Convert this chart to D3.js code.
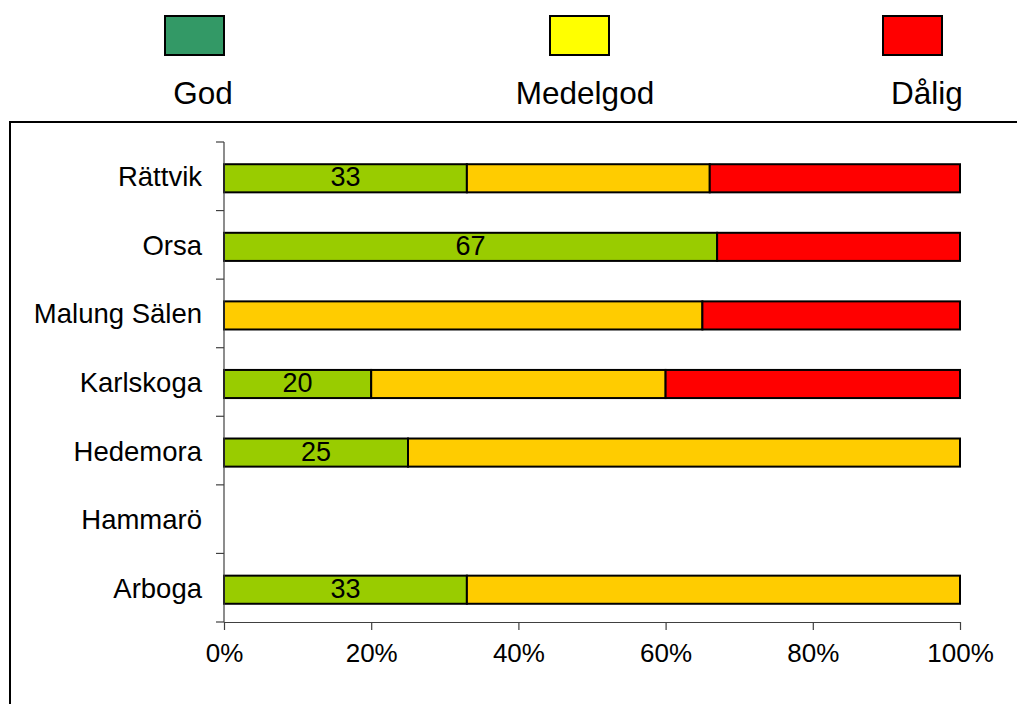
<!DOCTYPE html>
<html>
<head>
<meta charset="utf-8">
<script src="https://cdn.jsdelivr.net/npm/d3@7"></script>
<style>
  html, body { margin: 0; padding: 0; background: #fff; }
  svg { display: block; font-family: Arial, "Liberation Sans", sans-serif; }
</style>
</head>
<body>
<svg id="chart" width="1017" height="704"></svg>
<script>
// Kommuner, top to bottom
const categories = ["Rättvik", "Orsa", "Malung Sälen", "Karlskoga", "Hedemora", "Hammarö", "Arboga"];

// Share of each rating per kommun (%)
const god      = [33, 67,  0, 20, 25, 0, 33];
const medelgod = [33,  0, 65, 40, 75, 0, 67];
const dalig    = [34, 33, 35, 40,  0, 0,  0];

const seriesNames = ["God", "Medelgod", "Dålig"];
const barColors = ["#99CC00", "#FFCC00", "#FF0000"];
const legendColors = ["#339966", "#FFFF00", "#FF0000"];
const xTicks = [0, 20, 40, 60, 80, 100];

const rows = categories.map((c, i) => ({ name: c, God: god[i], Medelgod: medelgod[i], "Dålig": dalig[i] }));
const stacked = d3.stack().keys(seriesNames)(rows);

const svg = d3.select("#chart");

// Outer frame
svg.append("rect")
  .attr("x", 10).attr("y", 122)
  .attr("width", 1100).attr("height", 700)
  .attr("fill", "none").attr("stroke", "#000").attr("stroke-width", 2);

const plot = { left: 224, right: 960, top: 142, bottom: 622 };

const x = d3.scaleLinear().domain([0, 100]).range([plot.left, plot.right]);
const y = d3.scaleBand().domain(categories).range([plot.top + 2, plot.bottom + 2]).paddingInner(0.59).paddingOuter(0.295);
const yOuter = d3.scaleBand().domain(categories).range([plot.top, plot.bottom]);

// Bars
const layers = svg.append("g").selectAll("g")
  .data(stacked).join("g")
  .attr("fill", (d, i) => barColors[i]);

layers.selectAll("rect")
  .data(d => d.map(v => ({ v, name: v.data.name })))
  .join("rect")
  .filter(d => d.v[1] - d.v[0] > 0)
  .attr("x", d => x(d.v[0]))
  .attr("y", d => y(d.name))
  .attr("width", d => x(d.v[1]) - x(d.v[0]))
  .attr("height", y.bandwidth())
  .attr("stroke", "#000")
  .attr("stroke-width", 2);

// Value labels on the God segments
svg.append("g").selectAll("text")
  .data(stacked[0].filter(d => d[1] - d[0] > 0))
  .join("text")
  .attr("x", d => (x(d[0]) + x(d[1])) / 2)
  .attr("y", d => y(d.data.name) + y.bandwidth() / 2 + 8)
  .attr("text-anchor", "middle")
  .attr("font-size", 27)
  .attr("fill", "#000")
  .text(d => d[1] - d[0]);

// Y axis: line with ticks at category boundaries
const yAxis = svg.append("g").attr("stroke", "#404040").attr("stroke-width", 1.2);
yAxis.append("line")
  .attr("x1", plot.left).attr("x2", plot.left)
  .attr("y1", plot.top).attr("y2", plot.bottom);
const boundaries = categories.map(c => yOuter(c)).concat([plot.bottom]);
yAxis.selectAll(".yt").data(boundaries).join("line")
  .attr("x1", plot.left - 8).attr("x2", plot.left)
  .attr("y1", d => d).attr("y2", d => d);

svg.append("g").selectAll("text")
  .data(categories).join("text")
  .attr("x", plot.left - 22)
  .attr("y", d => yOuter(d) + yOuter.bandwidth() / 2 + 10)
  .attr("text-anchor", "end")
  .attr("font-size", 27.5)
  .attr("fill", "#000")
  .text(d => d);

// X axis
const xAxis = d3.axisBottom(x).tickValues(xTicks).tickSize(8).tickSizeOuter(0).tickFormat(d => d + "%");
const gx = svg.append("g").attr("transform", `translate(0,${plot.bottom})`).call(xAxis);
gx.select(".domain").attr("stroke", "#404040").attr("stroke-width", 1.2);
gx.selectAll(".tick line").attr("stroke", "#404040").attr("stroke-width", 1.2);
gx.selectAll(".tick text")
  .attr("font-size", 26)
  .attr("font-family", "Arial, 'Liberation Sans', sans-serif")
  .attr("fill", "#000")
  .attr("y", 22)
  .attr("dy", "0.71em");

// Legend
const legendItems = [
  { name: "God", color: legendColors[0], bx: 165, tx: 203 },
  { name: "Medelgod", color: legendColors[1], bx: 550, tx: 585 },
  { name: "Dålig", color: legendColors[2], bx: 883, tx: 927 }
];
const lg = svg.append("g");
lg.selectAll("rect").data(legendItems).join("rect")
  .attr("x", d => d.bx).attr("y", 16)
  .attr("width", 59).attr("height", 39)
  .attr("fill", d => d.color)
  .attr("stroke", "#000").attr("stroke-width", 2);
lg.selectAll("text").data(legendItems).join("text")
  .attr("x", d => d.tx).attr("y", 104)
  .attr("text-anchor", "middle")
  .attr("font-size", 31.5)
  .attr("fill", "#000")
  .text(d => d.name);
</script>
</body>
</html>
